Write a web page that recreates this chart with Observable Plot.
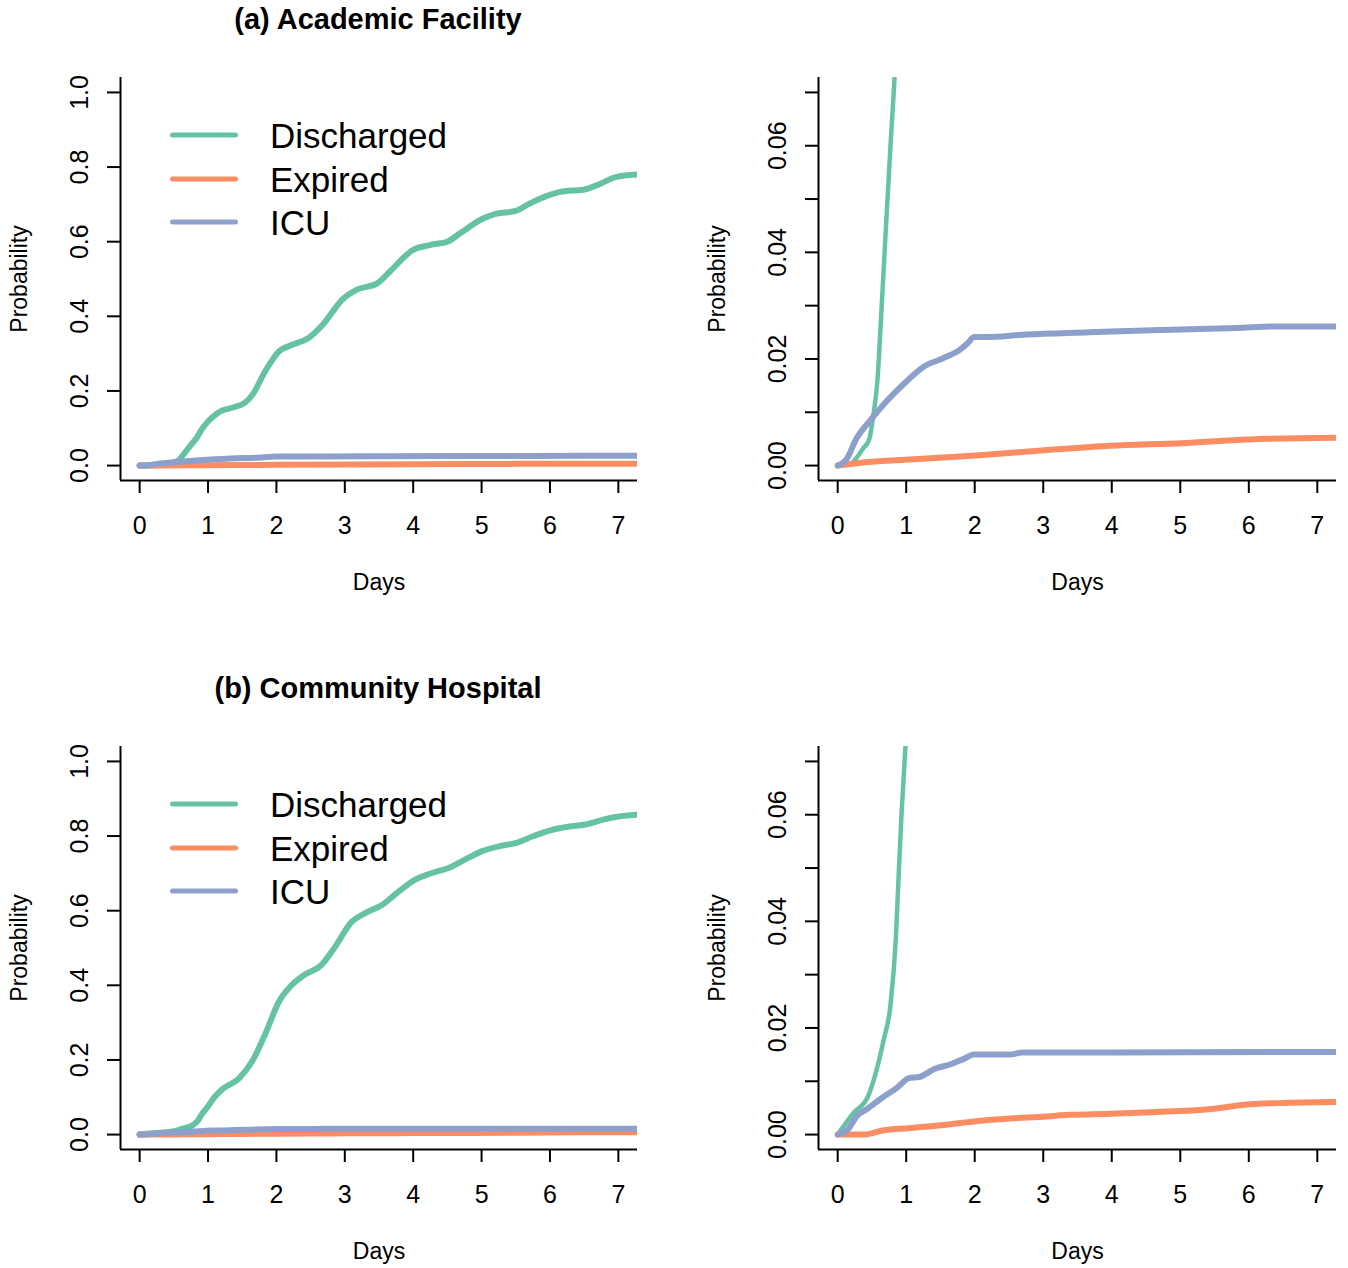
<!DOCTYPE html>
<html>
<head>
<meta charset="utf-8">
<script src="https://cdn.jsdelivr.net/npm/d3@7"></script>
<script src="https://cdn.jsdelivr.net/npm/@observablehq/plot@0.6"></script>
<style>
  body { margin: 0; background: #fff; font-family: "Liberation Sans", Arial, Helvetica, sans-serif; }
  #root { position: relative; width: 1348px; height: 1268px; overflow: hidden; background: #fff; }
  .panel { position: absolute; }
  .title { position: absolute; font-weight: bold; font-size: 29px; transform: translate(-50%, -50%); white-space: nowrap; color: #000; }
  .legrow { position: absolute; display: flex; align-items: center; transform: translateY(-50%); }
  .swatch { display: inline-block; width: 68px; height: 5px; border-radius: 3px; }
  .leglabel { font-size: 35px; margin-left: 32px; color: #000; line-height: 1; }
</style>
</head>
<body>
<div id="root"></div>
<script>
// ---------- data ----------
const panelTitles = ["(a) Academic Facility", "(b) Community Hospital"];
const seriesNames = ["Discharged", "Expired", "ICU"];
const seriesColors = ["#66c2a5", "#fc8d62", "#8da0cb"];
const xTicks = [0, 1, 2, 3, 4, 5, 6, 7];
const xDomain = [-0.28, 7.28];
const yTicksFull = [0, 0.2, 0.4, 0.6, 0.8, 1.0];
const yDomainFull = [-0.04, 1.04];
const yTicksZoom = [0, 0.01, 0.02, 0.03, 0.04, 0.05, 0.06, 0.07];
const yLabelsZoom = [0, 0.02, 0.04, 0.06];
const yDomainZoom = [-0.0028, 0.0728];

// [day, probability]
const acadDischarged = [[0,0],[0.18,0.0003],[0.37,0.0032],[0.46,0.0049],[0.52,0.0094],[0.58,0.0159],[0.64,0.0294],[0.70,0.0437],[0.77,0.0599],[0.83,0.073],[0.9,0.095],[1.01,0.12],[1.14,0.141],[1.39,0.157],[1.52,0.166],[1.65,0.19],[1.84,0.254],[2.03,0.305],[2.22,0.323],[2.47,0.342],[2.66,0.374],[2.98,0.448],[3.17,0.471],[3.48,0.489],[3.67,0.522],[3.99,0.577],[4.24,0.591],[4.5,0.6],[4.69,0.623],[5.0,0.66],[5.19,0.674],[5.51,0.683],[5.7,0.702],[6.02,0.727],[6.2,0.735],[6.49,0.739],[6.71,0.753],[6.96,0.773],[7.27,0.78]];
const acadExpired = [[0,0],[0.31,0.0005],[0.98,0.0011],[2.02,0.0019],[3.06,0.0029],[3.98,0.0037],[5.02,0.0042],[6.0,0.0049],[7.27,0.0052]];
const acadICU = [[0,0],[0.12,0.001],[0.28,0.0052],[0.49,0.0087],[0.73,0.0123],[0.98,0.0155],[1.26,0.0186],[1.53,0.0201],[1.78,0.0217],[1.9,0.023],[1.99,0.0241],[2.14,0.0241],[2.76,0.0246],[3.67,0.025],[4.59,0.0254],[5.82,0.0258],[6.43,0.0261],[7.27,0.0261]];

const commDischarged = [[0,0],[0.24,0.0042],[0.43,0.0068],[0.55,0.0113],[0.67,0.0177],[0.77,0.0242],[0.85,0.0371],[0.89,0.0487],[0.93,0.0597],[0.99,0.0729],[1.08,0.097],[1.2,0.12],[1.46,0.152],[1.65,0.198],[1.84,0.271],[2.03,0.354],[2.22,0.4],[2.41,0.428],[2.66,0.455],[2.85,0.501],[3.1,0.57],[3.29,0.593],[3.55,0.616],[3.8,0.653],[4.05,0.685],[4.24,0.699],[4.56,0.718],[4.75,0.736],[5.0,0.759],[5.26,0.773],[5.51,0.782],[5.76,0.8],[6.02,0.816],[6.27,0.825],[6.52,0.831],[6.78,0.844],[6.96,0.851],[7.27,0.857]];
const commExpired = [[0,0],[0.37,0],[0.67,0.0008],[1.04,0.0012],[1.47,0.0017],[2.02,0.0025],[2.51,0.003],[3.06,0.0034],[3.37,0.0037],[3.98,0.0039],[4.59,0.0042],[5.45,0.0048],[5.94,0.0056],[6.43,0.0059],[7.27,0.0061]];
const commICU = [[0,0],[0.15,0.001],[0.28,0.0035],[0.43,0.0048],[0.67,0.0071],[0.86,0.0087],[1.04,0.0106],[1.19,0.0108],[1.41,0.0123],[1.65,0.0132],[1.84,0.0142],[1.99,0.015],[2.51,0.015],[2.69,0.0154],[3.98,0.0154],[7.27,0.0155]];

// ---------- layout ----------
const FONT = '"Liberation Sans", Arial, Helvetica, sans-serif';
const root = document.getElementById("root");

function toRows(seriesArrays) {
  const rows = [];
  seriesArrays.forEach((arr, i) => arr.forEach(([d, p]) => rows.push({series: seriesNames[i], day: d, prob: p})));
  return rows;
}

function makePanel(opts) {
  const {left, top, width, height, ml, mr, mt, mb, yDomain, yTicks, yLabels, yFmt, rows, widths} = opts;
  const chart = Plot.plot({
    width, height,
    marginLeft: ml, marginRight: mr, marginTop: mt, marginBottom: mb,
    style: {fontFamily: FONT, color: "#000", background: "transparent", overflow: "visible"},
    x: {domain: xDomain},
    y: {domain: yDomain},
    color: {domain: seriesNames, range: seriesColors},
    marks: [
      Plot.ruleX([xDomain[0]], {stroke: "#000", strokeWidth: 2}),
      Plot.ruleY([yDomain[0]], {stroke: "#000", strokeWidth: 2}),
      Plot.axisX({ticks: xTicks, tickSize: 13, tickFormat: () => "", strokeWidth: 2, label: null}),
      Plot.axisY({ticks: yTicks, tickSize: 13, tickFormat: () => "", strokeWidth: 2, label: null}),
      Plot.text(xTicks, {x: d => d, frameAnchor: "bottom", dy: 45, lineAnchor: "middle", textAnchor: "middle", text: d => String(d), fontSize: 25, fill: "#000"}),
      Plot.text(yLabels, {y: d => d, frameAnchor: "left", dx: -41, rotate: -90, textAnchor: "middle", lineAnchor: "middle", text: d => yFmt(d), fontSize: 25, fill: "#000"}),
      Plot.text(["Days"], {frameAnchor: "bottom", dy: 102, lineAnchor: "middle", textAnchor: "middle", text: d => d, fontSize: 23, fill: "#000"}),
      Plot.text(["Probability"], {frameAnchor: "left", dx: -101, rotate: -90, textAnchor: "middle", lineAnchor: "middle", text: d => d, fontSize: 23, fill: "#000"}),
      ...seriesNames.map((s, i) => Plot.line(rows.filter(r => r.series === s), {
        x: "day", y: "prob", stroke: "series", strokeWidth: widths[i], curve: "monotone-x", clip: true
      }))
    ]
  });
  chart.classList.add("panel");
  chart.style.left = left + "px";
  chart.style.top = top + "px";
  root.appendChild(chart);
}

function makeLegend(x0, y0) {
  const offsets = [58, 102, 145];
  seriesNames.forEach((s, i) => {
    const row = document.createElement("div");
    row.className = "legrow";
    row.style.left = x0 + "px";
    row.style.top = (y0 + offsets[i]) + "px";
    const sw = document.createElement("span");
    sw.className = "swatch";
    sw.style.background = seriesColors[i];
    const lab = document.createElement("span");
    lab.className = "leglabel";
    lab.textContent = s;
    row.appendChild(sw);
    row.appendChild(lab);
    root.appendChild(row);
  });
}

const facilities = [
  {title: panelTitles[0], rows: toRows([acadDischarged, acadExpired, acadICU]), top: 0},
  {title: panelTitles[1], rows: toRows([commDischarged, commExpired, commICU]), top: 669}
];

facilities.forEach(f => {
  makePanel({left: 0, top: f.top, width: 674, height: 599, ml: 120, mr: 37, mt: 77, mb: 119,
    yDomain: yDomainFull, yTicks: yTicksFull, yLabels: yTicksFull, yFmt: d3.format(".1f"),
    rows: f.rows, widths: [6, 6, 6]});
  makePanel({left: 674, top: f.top, width: 674, height: 599, ml: 144, mr: 12, mt: 77, mb: 119,
    yDomain: yDomainZoom, yTicks: yTicksZoom, yLabels: yLabelsZoom, yFmt: d3.format(".2f"),
    rows: f.rows, widths: [4.5, 6, 6]});
  const t = document.createElement("div");
  t.className = "title";
  t.textContent = f.title;
  t.style.left = "378px";
  t.style.top = (f.top + 19) + "px";
  root.appendChild(t);
  makeLegend(170, f.top + 77);
});
</script>
</body>
</html>
